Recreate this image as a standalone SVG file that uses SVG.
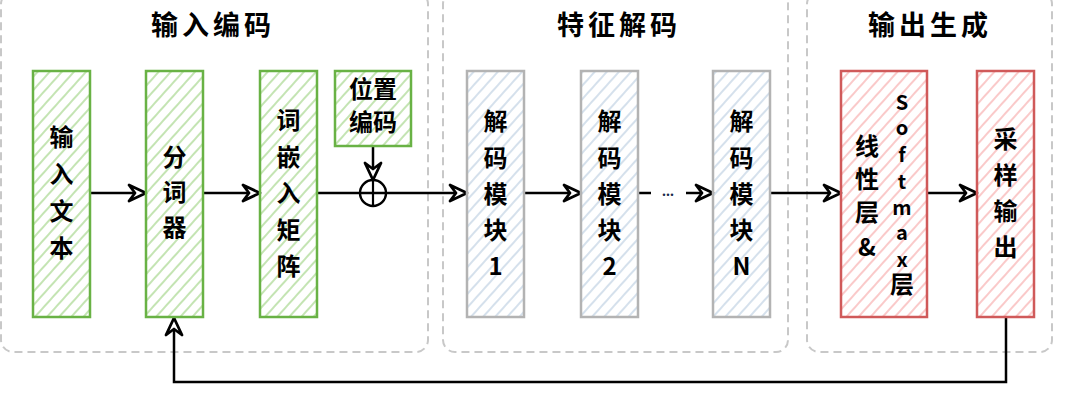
<svg xmlns="http://www.w3.org/2000/svg" width="1066" height="400" viewBox="0 0 1066 400">
<defs>
<pattern id="hg" width="9" height="9" patternUnits="userSpaceOnUse" patternTransform="rotate(42)"><line x1="4" y1="0" x2="4" y2="9" stroke="#b5dda0" stroke-width="1.6"/></pattern>
<pattern id="hb" width="9" height="9" patternUnits="userSpaceOnUse" patternTransform="rotate(42)"><line x1="4" y1="0" x2="4" y2="9" stroke="#cbd9e8" stroke-width="1.6"/></pattern>
<pattern id="hr" width="9" height="9" patternUnits="userSpaceOnUse" patternTransform="rotate(42)"><line x1="4" y1="0" x2="4" y2="9" stroke="#f9bcbc" stroke-width="1.6"/></pattern>
<marker id="arr" markerUnits="userSpaceOnUse" markerWidth="22" markerHeight="20" refX="19" refY="10" orient="auto" overflow="visible">
<path d="M2,2 L19,10 L2,18 L8,10 Z" fill="#fff" stroke="#000" stroke-width="2.8" stroke-linejoin="round"/>
</marker>
</defs>
<style>
.grp{fill:none;stroke:#c8c8c8;stroke-width:2;stroke-dasharray:8 5}
.title{font-family:"Noto Sans CJK SC","Noto Sans",sans-serif;font-size:27px;font-weight:700;fill:#000;text-anchor:middle;letter-spacing:4px}
.t{font-family:"Noto Sans CJK SC","Noto Sans",sans-serif;font-size:24px;font-weight:700;fill:#000;text-anchor:middle}
.s{font-family:"Noto Sans CJK SC","Noto Sans",sans-serif;font-size:20px;font-weight:700;fill:#000;text-anchor:middle}
.g{fill:url(#hg);stroke:#69b245;stroke-width:2.5}
.b{fill:url(#hb);stroke:#b3b3b3;stroke-width:2.5}
.r{fill:url(#hr);stroke:#d05a5a;stroke-width:2.5}
.e{fill:none;stroke:#000;stroke-width:2.5}
</style>
<g id="groups">
<rect class="grp" x="1" y="-8" width="427" height="360" rx="12"/>
<rect class="grp" x="443" y="-8" width="345" height="360" rx="12"/>
<rect class="grp" x="807" y="-8" width="245" height="360" rx="12"/>
<text class="title" x="213" y="35">输入编码</text>
<text class="title" x="619" y="35">特征解码</text>
<text class="title" x="930" y="35">输出生成</text>
</g>
<g id="connectors">
<line class="e" x1="90" y1="193" x2="146" y2="193" marker-end="url(#arr)"/>
<line class="e" x1="203" y1="193" x2="260" y2="193" marker-end="url(#arr)"/>
<line class="e" x1="317" y1="193" x2="467" y2="193" marker-end="url(#arr)"/>
<line class="e" x1="373" y1="146" x2="373" y2="180" marker-end="url(#arr)"/>
<line class="e" x1="524" y1="193" x2="581" y2="193" marker-end="url(#arr)"/>
<line class="e" x1="638" y1="193" x2="651" y2="193"/>
<line class="e" x1="686" y1="193" x2="713" y2="193" marker-end="url(#arr)"/>
<text x="668" y="196" font-family="Noto Sans, sans-serif" font-size="14" font-weight="700" fill="#1a2a4a" text-anchor="middle">...</text>
<line class="e" x1="770" y1="193" x2="841" y2="193" stroke-width="3.2" marker-end="url(#arr)"/>
<line class="e" x1="927" y1="193" x2="977" y2="193" marker-end="url(#arr)"/>
<polyline class="e" points="1006,317 1006,382 174,382 174,318" stroke-width="2.2" marker-end="url(#arr)"/>
</g>
<g id="plus">
<circle cx="373" cy="193" r="13" fill="none" stroke="#000" stroke-width="2.4"/>
<line x1="373" y1="180" x2="373" y2="206" stroke="#000" stroke-width="2.2"/>
</g>
<g id="n-input">
<rect class="g" x="33" y="71" width="57" height="246"/>
<text class="t"><tspan x="61.5" y="146">输</tspan><tspan x="61.5" y="183">入</tspan><tspan x="61.5" y="220">文</tspan><tspan x="61.5" y="257">本</tspan></text>
</g>
<g id="n-tokenizer">
<rect class="g" x="146" y="71" width="57" height="246"/>
<text class="t"><tspan x="174.5" y="166">分</tspan><tspan x="174.5" y="201">词</tspan><tspan x="174.5" y="236">器</tspan></text>
</g>
<g id="n-embed">
<rect class="g" x="260" y="71" width="57" height="246"/>
<text class="t"><tspan x="288.5" y="129">词</tspan><tspan x="288.5" y="166">嵌</tspan><tspan x="288.5" y="202">入</tspan><tspan x="288.5" y="239">矩</tspan><tspan x="288.5" y="275">阵</tspan></text>
</g>
<g id="n-pos">
<rect class="g" x="335" y="71" width="76" height="75"/>
<text class="t"><tspan x="373" y="98">位置</tspan><tspan x="373" y="131">编码</tspan></text>
</g>
<g id="n-dec1">
<rect class="b" x="467" y="71" width="57" height="246"/>
<text class="t"><tspan x="495.5" y="130">解</tspan><tspan x="495.5" y="167">码</tspan><tspan x="495.5" y="203">模</tspan><tspan x="495.5" y="239">块</tspan><tspan x="495.5" y="275">1</tspan></text>
</g>
<g id="n-dec2">
<rect class="b" x="581" y="71" width="57" height="246"/>
<text class="t"><tspan x="609.5" y="130">解</tspan><tspan x="609.5" y="167">码</tspan><tspan x="609.5" y="203">模</tspan><tspan x="609.5" y="239">块</tspan><tspan x="609.5" y="275">2</tspan></text>
</g>
<g id="n-decN">
<rect class="b" x="713" y="71" width="57" height="246"/>
<text class="t"><tspan x="741.5" y="130">解</tspan><tspan x="741.5" y="167">码</tspan><tspan x="741.5" y="203">模</tspan><tspan x="741.5" y="239">块</tspan><tspan x="741.5" y="275">N</tspan></text>
</g>
<g id="n-softmax">
<rect class="r" x="841" y="71" width="86" height="246"/>
<text class="t"><tspan x="867" y="155">线</tspan><tspan x="867" y="188">性</tspan><tspan x="867" y="221">层</tspan><tspan x="867" y="256">&amp;</tspan></text>
<text class="s"><tspan x="902" y="110">S</tspan><tspan x="902" y="135">o</tspan><tspan x="902" y="162">f</tspan><tspan x="902" y="189">t</tspan><tspan x="902" y="215">m</tspan><tspan x="902" y="240">a</tspan><tspan x="902" y="267">x</tspan><tspan x="902" y="293" font-size="24">层</tspan></text>
</g>
<g id="n-sample">
<rect class="r" x="977" y="71" width="57" height="246"/>
<text class="t"><tspan x="1005.5" y="148">采</tspan><tspan x="1005.5" y="184">样</tspan><tspan x="1005.5" y="220">输</tspan><tspan x="1005.5" y="256">出</tspan></text>
</g>
</svg>
